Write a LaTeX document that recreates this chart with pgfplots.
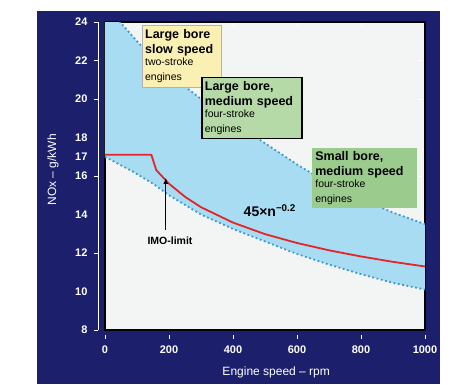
\documentclass[border=0pt]{standalone}
\usepackage{pgfplots}
\usepackage{pgfplotstable}
\pgfplotsset{compat=1.18}
\usetikzlibrary{arrows.meta}
\usepackage{fontspec}
\setmainfont{Liberation Sans}
\definecolor{navy}{HTML}{1C1F6B}
\definecolor{plotbg}{HTML}{F3F4F4}
\definecolor{bandblue}{HTML}{A8DCF2}
\definecolor{dotblue}{HTML}{3A9AD0}
\definecolor{imored}{HTML}{E5252A}
\definecolor{boxyellow}{HTML}{FAF0B4}
\definecolor{boxgreenA}{HTML}{B6D9A8}
\definecolor{boxgreenB}{HTML}{9CCB8E}

\pgfplotstableread{
x y
0 25.2
47 24.0
100 23.0
200 21.3
300 20.0
400 18.8
500 17.7
600 16.6
700 15.6
800 14.8
900 14.1
1000 13.5
}\tabUp

\pgfplotstableread{
x y
0 17.0
90 16.2
150 15.6
200 15.0
300 14.0
400 13.25
500 12.6
600 11.95
700 11.4
800 10.9
900 10.45
1000 10.1
}\tabLo

% band outline: upper boundary forward, lower boundary backward
\pgfplotstableread{
x y
0 25.2
47 24.0
100 23.0
200 21.3
300 20.0
400 18.8
500 17.7
600 16.6
700 15.6
800 14.8
900 14.1
1000 13.5
1000 10.1
900 10.45
800 10.9
700 11.4
600 11.95
500 12.6
400 13.25
300 14.0
200 15.0
150 15.6
90 16.2
0 17.0
}\tabBand

\pgfplotstableread{
x y
0 17.1
145 17.1
160 16.31
200 15.6
250 14.92
300 14.38
400 13.58
500 12.98
600 12.52
700 12.14
800 11.82
900 11.54
1000 11.30
}\tabImo

\begin{document}
\begin{tikzpicture}
\fill[white] (0pt,0pt) rectangle (459pt,384pt);
\fill[navy] (37pt,0pt) rectangle (440pt,373pt);
\draw[white, line width=0.8pt] (98pt,54pt) -- (98pt,362pt);
\begin{axis}[
  at={(105pt,54pt)}, anchor=south west,
  scale only axis, width=320pt, height=308pt,
  xmin=0, xmax=1000, ymin=8, ymax=24,
  axis background/.style={fill=plotbg},
  axis line style={black, line width=1.4pt},
  xtick={0,200,400,600,800,1000},
  ytick={8,12,16,20,22,24},
  extra y ticks={10,14,17,18},
  extra y tick style={tick style={draw=none}},
  tick align=outside,
  major tick length=4pt,
  x tick style={white, line width=0.8pt, yshift=-5pt},
  y tick style={white, line width=0.8pt, xshift=-7pt},
  /pgf/number format/assume math mode=true,
  /pgf/number format/1000 sep={},
  ticklabel style={text=white, font=\fontsize{11}{13}\selectfont\bfseries},
  yticklabel style={xshift=-10pt},
  xticklabel style={yshift=-8pt},
  xlabel={Engine speed -- rpm},
  ylabel={NOx -- g/kWh},
  xlabel style={text=white, font=\fontsize{12}{14}\selectfont, at={(rel axis cs:0.535,0)}, anchor=center, yshift=-42pt},
  ylabel style={text=white, font=\fontsize{12}{14}\selectfont, at={(rel axis cs:0,0.52)}, anchor=center, yshift=52pt},
]
\addplot[fill=bandblue, draw=none] table[x=x,y=y] {\tabBand} -- cycle;
\addplot[dotblue, line width=1.8pt, dash pattern=on 1.8pt off 2.6pt] table[x=x,y=y] {\tabUp};
\addplot[dotblue, line width=1.8pt, dash pattern=on 1.8pt off 2.6pt] table[x=x,y=y] {\tabLo};
\addplot[imored, line width=1.8pt] table[x=x,y=y] {\tabImo};

\node[fill=boxyellow, draw=gray!60, line width=0.8pt, minimum width=79pt, minimum height=62pt,
  text width=74pt, inner sep=2.5pt, align=left, anchor=center,
  font=\fontsize{12.5}{14.5}\selectfont\bfseries] at (axis cs:241,22.23)
  {Large bore\\slow speed\\{\fontsize{10.5}{12.5}\selectfont\mdseries two-stroke\\engines}};

\node[fill=boxgreenA, draw=black, line width=1.6pt, minimum width=100pt, minimum height=61pt,
  text width=94pt, inner sep=2.5pt, align=left, anchor=center,
  font=\fontsize{12.5}{14.5}\selectfont\bfseries] at (axis cs:459,19.53)
  {Large bore,\\medium speed\\{\fontsize{10.5}{12.5}\selectfont\mdseries four-stroke\\engines}};

\node[fill=boxgreenB, minimum width=105pt, minimum height=60pt,
  text width=99pt, inner sep=2.5pt, align=left, anchor=center,
  font=\fontsize{12.5}{14.5}\selectfont\bfseries] at (axis cs:812,15.9)
  {Small bore,\\medium speed\\{\fontsize{10.5}{12.5}\selectfont\mdseries four-stroke\\engines}};

\node[font=\fontsize{14}{16}\selectfont\bfseries, anchor=center] at (axis cs:515,14.2)
  {45×n\textsuperscript{−0.2}};

\draw[-{Latex[length=6pt,width=5pt]}, line width=1pt] (axis cs:190,13.2) -- (axis cs:190,15.9);
\node[font=\fontsize{10.5}{12}\selectfont\bfseries, anchor=center] at (axis cs:203,12.65) {IMO-limit};
\end{axis}
\end{tikzpicture}
\end{document}
